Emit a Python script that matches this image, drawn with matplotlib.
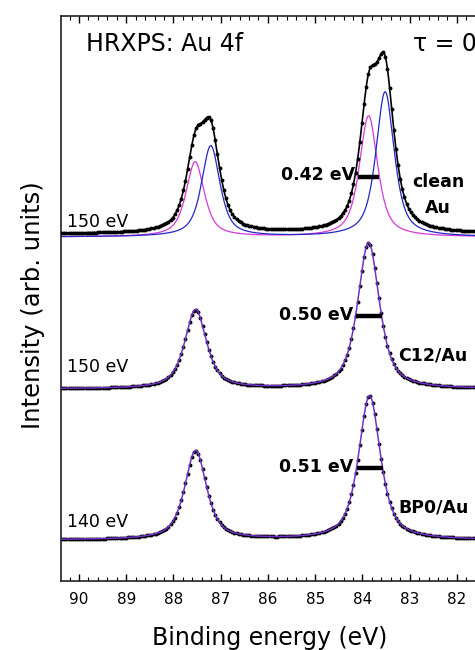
import numpy as np
import matplotlib
matplotlib.use('Agg')
import matplotlib.pyplot as plt
from matplotlib.ticker import MultipleLocator

# ---------------- data ----------------
sample_labels = ['clean\nAu', 'C12/Au', 'BP0/Au']
photon_energies = ['150 eV', '150 eV', '140 eV']
fwhm_labels = ['0.42 eV', '0.50 eV', '0.51 eV']
baselines = [344, 192, 41]            # vertical offsets of the spectra (arb. units)

# clean Au: two doublet components (bulk = magenta, surface = blue)
bulk_pos = [83.87, 87.54]
bulk_amp = [121, 75]
bulk_width = 0.46
surf_pos = [83.52, 87.21]
surf_amp = [145, 91]
surf_width = 0.46
clean_background = 3

# C12/Au fit
c12_pos = [83.87, 87.53]
c12_amp = [146, 79]
c12_width = 0.55

# BP0/Au fit
bp0_pos = [83.85, 87.53]
bp0_amp = [144, 89]
bp0_width = 0.55

lorentz_fraction = 0.7
xticks = [90, 89, 88, 87, 86, 85, 84, 83, 82]

# ---------------- helpers ----------------
def pv(x, pos, amp, w, eta=lorentz_fraction):
    y = np.zeros_like(x)
    for p, a in zip(pos, amp):
        d = (x - p) / w
        L = 1.0 / (1.0 + 4.0 * d ** 2)
        G = np.exp(-4.0 * np.log(2) * d ** 2)
        y += a * (eta * L + (1 - eta) * G)
    return y

PINK = '#d838d8'
BLUE = '#2626c8'
PURPLE = '#7032c8'

fig = plt.figure(figsize=(4.75, 6.5), dpi=100)
ax = fig.add_axes([61 / 475, 69 / 650, 425 / 475, 565 / 650])

xf = np.linspace(81.2, 90.6, 2000)     # plotting grid for fit curves
xd = np.arange(81.40, 90.40, 0.045)    # measurement grid for data points

# clean Au
b0 = baselines[0]
bulk = pv(xf, bulk_pos, bulk_amp, bulk_width)
surf = pv(xf, surf_pos, surf_amp, surf_width)
ax.plot(xf, b0 + bulk, color=PINK, lw=0.9, zorder=2)
ax.plot(xf, b0 + surf, color=BLUE, lw=0.9, zorder=2)
tot_f = b0 + clean_background + bulk + surf
ax.plot(xf, tot_f, color='k', lw=1.2, zorder=3)
tot_d = b0 + clean_background + pv(xd, bulk_pos, bulk_amp, bulk_width) + pv(xd, surf_pos, surf_amp, surf_width)
ax.plot(xd, tot_d, 'o', color='k', ms=1.8, zorder=4)

# C12 / BP0
for b, pos, amp, w in [(baselines[1], c12_pos, c12_amp, c12_width),
                       (baselines[2], bp0_pos, bp0_amp, bp0_width)]:
    ax.plot(xd, b + pv(xd, pos, amp, w), 'o', color='k', ms=1.8, zorder=3)
    ax.plot(xf, b + pv(xf, pos, amp, w), color=PURPLE, lw=1.1, zorder=4)

# FWHM bars
bars = [(bulk_pos[0], bulk_width, baselines[0] + bulk_amp[0] / 2),
        (c12_pos[0], c12_width, baselines[1] + c12_amp[0] / 2),
        (bp0_pos[0], bp0_width, baselines[2] + bp0_amp[0] / 2)]
for (c, w, yb), lab in zip(bars, fwhm_labels):
    ax.plot([c + w / 2, c - w / 2], [yb, yb], color='k', lw=3.2, solid_capstyle='butt', zorder=5)
    ax.text(c + w / 2 + 0.06, yb + 1, lab, ha='right', va='center',
            fontsize=12.5, fontweight='bold', zorder=6)

# photon energy labels
for b, lab, dy in zip(baselines, photon_energies, [15, 22, 18]):
    ax.text(90.25, b + dy, lab, ha='left', va='center', fontsize=12.5)

# sample labels
ax.text(82.40, 386, sample_labels[0], ha='center', va='center', fontsize=12.5,
        fontweight='bold', linespacing=1.55, multialignment='center')
ax.text(83.25, 225, sample_labels[1], ha='left', va='center', fontsize=12.5, fontweight='bold')
ax.text(83.25, 73, sample_labels[2], ha='left', va='center', fontsize=12.5, fontweight='bold')

ax.text(89.85, 537, 'HRXPS: Au 4f', ha='left', va='center', fontsize=17)
ax.text(82.93, 537, 'τ = 0°', ha='left', va='center', fontsize=17)

ax.set_xlim(90.38, 81.385)
ax.set_ylim(0, 565)
ax.set_yticks([])
ax.set_xticks(xticks)
ax.set_xticklabels([str(t) for t in xticks], fontsize=11)
ax.xaxis.set_minor_locator(MultipleLocator(0.2))
ax.tick_params(axis='x', which='major', direction='in', top=True, length=5, width=1, pad=8)
ax.tick_params(axis='x', which='minor', direction='in', top=True, length=3, width=0.8)
for s in ax.spines.values():
    s.set_linewidth(1.2)
    s.set_color('#222222')

fig.text(270 / 475, 1 - 638 / 650, 'Binding energy (eV)', ha='center', va='center', fontsize=17)
fig.text(33 / 475, 1 - 305 / 650, 'Intensity (arb. units)', ha='center', va='center',
         rotation=90, fontsize=17.5)

fig.savefig('out.png', dpi=100)
